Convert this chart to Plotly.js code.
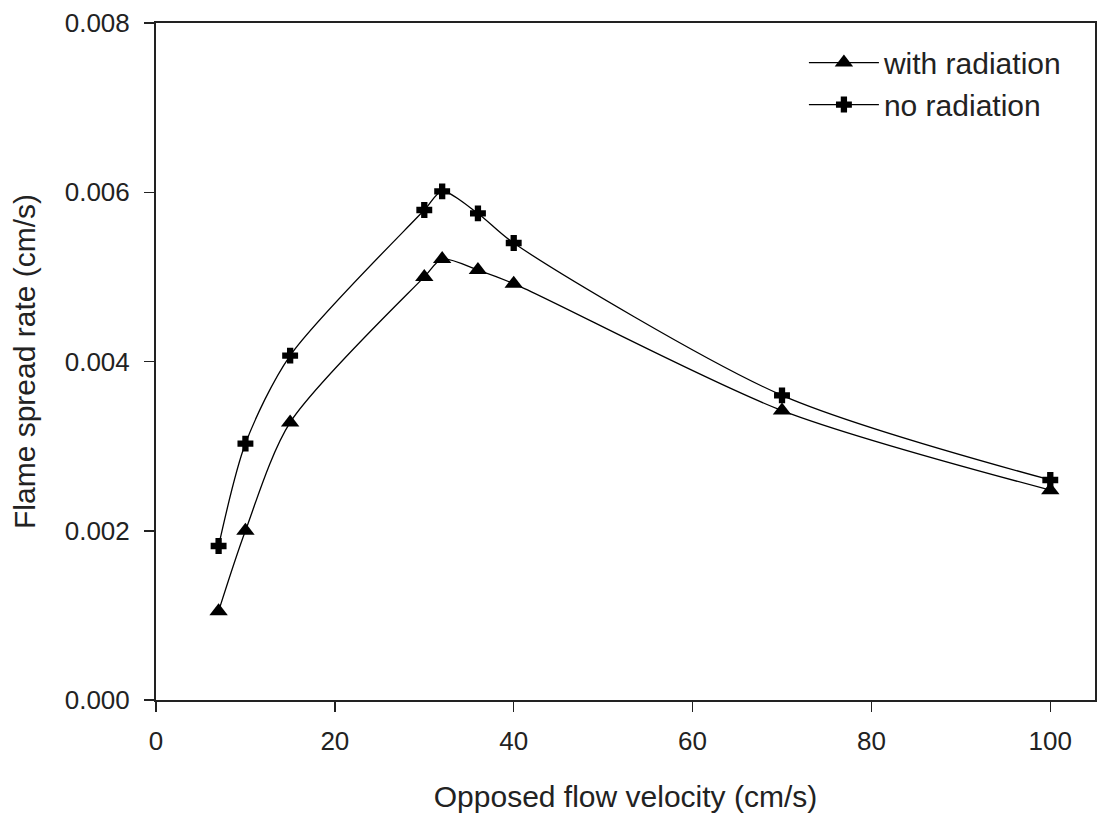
<!DOCTYPE html>
<html>
<head>
<meta charset="utf-8">
<script src="https://cdn.plot.ly/plotly-3.0.1.min.js"></script>
<style>html,body{margin:0;padding:0;background:#fff}#chart{width:1097px;height:816px}</style>
</head>
<body>
<div id="chart"></div>
<script>
const velocity = [7, 10, 15, 30, 32, 36, 40, 70, 100];
const withRadiation = [0.00105, 0.00200, 0.00328, 0.00500, 0.00521, 0.00508, 0.00492, 0.00342, 0.00248];
const noRadiation = [0.00182, 0.00303, 0.00407, 0.00579, 0.00601, 0.00575, 0.00540, 0.00360, 0.00260];
const seriesNames = ["with radiation", "no radiation"];
const xTitle = "Opposed flow velocity (cm/s)";
const yTitle = "Flame spread rate (cm/s)";

const FONT = "Liberation Sans, Arial, sans-serif";
const TXT = "#222";

const traces = [
  {
    x: velocity, y: withRadiation, name: seriesNames[0],
    type: "scatter", mode: "lines+markers",
    line: {color: "#000", width: 1.3, shape: "spline", smoothing: 0.8},
    marker: {symbol: "triangle-up", size: 16, color: "#000"}
  },
  {
    x: velocity, y: noRadiation, name: seriesNames[1],
    type: "scatter", mode: "lines+markers",
    line: {color: "#000", width: 1.3, shape: "spline", smoothing: 0.8},
    marker: {symbol: "cross", size: 12, color: "#000", line: {color: "#000", width: 1.5}}
  }
];

const layout = {
  width: 1097, height: 816,
  margin: {l: 156, r: 2, t: 23, b: 116, pad: 0},
  paper_bgcolor: "#fff", plot_bgcolor: "#fff",
  font: {family: FONT, color: TXT, size: 26},
  showlegend: true,
  legend: {
    x: 0.69, y: 0.98, xanchor: "left", yanchor: "top",
    bgcolor: "rgba(0,0,0,0)", borderwidth: 0,
    font: {family: FONT, size: 30, color: TXT},
    itemwidth: 70, tracegroupgap: 0
  },
  xaxis: {
    range: [0, 105], dtick: 20, tick0: 0,
    showgrid: false, zeroline: false,
    showline: true, linecolor: "#222", linewidth: 2, mirror: true,
    ticks: "outside", ticklen: 10, tickwidth: 1.5, tickcolor: "#222",
    ticklabelstandoff: 7,
    tickfont: {family: FONT, size: 26, color: TXT},
    title: {text: xTitle, font: {family: FONT, size: 30, color: TXT}, standoff: 31}
  },
  yaxis: {
    range: [0, 0.008], dtick: 0.002, tick0: 0, tickformat: ".3f",
    showgrid: false, zeroline: false,
    showline: true, linecolor: "#222", linewidth: 2, mirror: true,
    ticks: "outside", ticklen: 10, tickwidth: 1.5, tickcolor: "#222",
    ticklabelstandoff: 9,
    tickfont: {family: FONT, size: 26, color: TXT},
    title: {text: yTitle, font: {family: FONT, size: 30, color: TXT}, standoff: 20}
  }
};

Plotly.newPlot("chart", traces, layout, {displayModeBar: false, staticPlot: true});
</script>
</body>
</html>
